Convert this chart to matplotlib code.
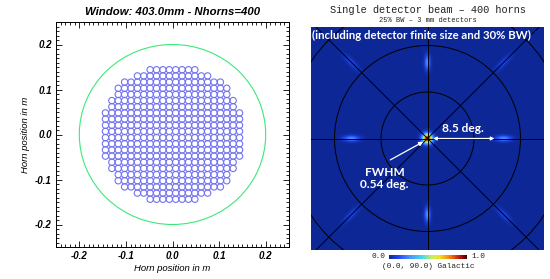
import numpy as np
import matplotlib as mpl
mpl.use('Agg')
import matplotlib.pyplot as plt
from matplotlib.colors import LinearSegmentedColormap
from matplotlib.patches import Circle

# ---- data: horn array (left panel) ----
# horns per row, from the top row down to the middle row (array is symmetric)
row_counts_top = [8, 12, 16, 18, 18, 20, 20, 22, 22, 22, 22]
horn_pitch = 0.0137       # m
window_radius = 0.2       # m
x_ticks = [-0.2, -0.1, 0.0, 0.1, 0.2]
y_ticks = [-0.2, -0.1, 0.0, 0.1, 0.2]

# ---- data: synthesized beam (right panel) ----
peak_sep = 8.2            # deg, distance of the secondary peaks
core_width = 0.9          # deg, apparent width of the central peak on the map
lobe_x = [0, 1, -1, 0, 0, 1, 1, -1, -1]
lobe_y = [0, 0, 0, 1, -1, 1, -1, 1, -1]
lobe_amp = [1.0, 0.26, 0.26, 0.26, 0.26, 0.11, 0.11, 0.11, 0.11]
grat_radii = [5, 10, 15]  # deg
cbar_labels = ['0.0', '1.0']

fig = plt.figure(figsize=(5.5, 2.79), dpi=100)
W, H = 550.0, 279.0

# ------------------------------------------------------------ left panel
ax1 = fig.add_axes([56 / W, 1 - 247 / H, 233 / W, 225 / H])
counts = row_counts_top + row_counts_top[::-1]
nrows = len(counts)
hx, hy = [], []
for i, n in enumerate(counts):
    y = ((nrows - 1) / 2.0 - i) * horn_pitch
    for j in range(n):
        hx.append((j - (n - 1) / 2.0) * horn_pitch)
        hy.append(y)
ax1.scatter(hx, hy, s=21, facecolors='none', edgecolors='#7272f0',
            linewidths=0.8)
ax1.add_patch(Circle((0, 0), window_radius, fill=False, color='#3de87a',
                     lw=0.8))
ax1.set_xlim(-0.25, 0.25)
ax1.set_ylim(-0.25, 0.25)
ax1.set_xticks(x_ticks)
ax1.set_yticks(y_ticks)
ax1.set_xticklabels(['%.1f' % v for v in x_ticks])
ax1.set_yticklabels(['%.1f' % v for v in y_ticks])
ax1.xaxis.set_minor_locator(mpl.ticker.MultipleLocator(0.01))
ax1.yaxis.set_minor_locator(mpl.ticker.MultipleLocator(0.01))
ax1.tick_params(which='both', direction='in', top=True, right=True,
                width=0.6)
ax1.tick_params(which='major', length=4, pad=3)
ax1.tick_params(which='minor', length=2)
for lab in ax1.get_xticklabels() + ax1.get_yticklabels():
    lab.set_family('Liberation Sans')
    lab.set_weight('bold')
    lab.set_style('italic')
    lab.set_fontsize(7)
for s in ax1.spines.values():
    s.set_linewidth(0.7)
lab_font = dict(family='Liberation Sans', style='italic', fontsize=6.8)
ax1.set_xlabel('Horn position in m', labelpad=2, **lab_font)
ax1.set_ylabel('Horn position in m', labelpad=4, **lab_font)
ax1.set_title('Window: 403.0mm - Nhorns=400', family='Liberation Sans',
              weight='bold', style='italic', fontsize=8.2, pad=5)

# ------------------------------------------------------------ right panel
ax2 = fig.add_axes([311 / W, 1 - 250 / H, 233 / W, 223 / H])
scale = 9.3  # px per degree
xh, yh = 116.5 / scale, 111.5 / scale
gx = np.linspace(-xh, xh, 466)
gy = np.linspace(-yh, yh, 446)
X, Y = np.meshgrid(gx, gy)
sig = core_width / 2.3548
beam = np.zeros_like(X)
for lx, ly, a in zip(lobe_x, lobe_y, lobe_amp):
    cx, cy = lx * peak_sep, ly * peak_sep
    if lx == 0 and ly == 0:
        beam += a * np.exp(-(X ** 2 + Y ** 2) / (2 * sig ** 2))
        continue
    r = np.hypot(cx, cy)
    ux, uy = cx / r, cy / r
    dr = (X - cx) * ux + (Y - cy) * uy
    dt = -(X - cx) * uy + (Y - cy) * ux
    sr = 0.6 * r / peak_sep
    beam += a * np.exp(-dr ** 2 / (2 * sr ** 2) - dt ** 2 / (2 * 0.22 ** 2))
beam = np.clip(beam, 0, 1)

cmap = LinearSegmentedColormap.from_list('beam', [
    (0.0, '#0d2896'), (0.12, '#2048f2'), (0.26, '#4a90ff'),
    (0.42, '#40d8f0'), (0.55, '#c8f060'), (0.65, '#f0e020'),
    (0.8, '#f07010'), (0.92, '#b01010'), (1.0, '#400000')])
im = ax2.imshow(beam, cmap=cmap, vmin=0, vmax=1, origin='lower',
                extent=[-xh, xh, -yh, yh], interpolation='bilinear')
for rr in grat_radii:
    ax2.add_patch(Circle((0, 0), rr, fill=False, color='black', lw=0.7))
ax2.axhline(0, color='black', lw=0.7)
ax2.axvline(0, color='black', lw=0.7)
ax2.axline((0, 0), slope=1, color='black', lw=0.7)
ax2.axline((0, 0), slope=-1, color='black', lw=0.7)
ax2.set_xlim(-xh, xh)
ax2.set_ylim(-yh, yh)
ax2.set_xticks([])
ax2.set_yticks([])
for s in ax2.spines.values():
    s.set_visible(False)

txt = dict(family='Lato', weight='bold', color='white')
ax2.text(0.006, 0.962, '(including detector finite size and 30% BW)',
         transform=ax2.transAxes, ha='left', va='center', fontsize=8.2, **txt)
ax2.text(3.8, 1.1, '8.5 deg.', ha='center', va='center', fontsize=8.6, **txt)
ax2.annotate('', xy=(7.2, 0), xytext=(0.6, 0),
             arrowprops=dict(arrowstyle='<|-|>', color='white', lw=0.9,
                             mutation_scale=5, shrinkA=0, shrinkB=0))
ax2.text(-4.6, -4.3, 'FWHM\n0.54 deg.', ha='center', va='center',
         fontsize=8.6, linespacing=1.05, **txt)
ax2.annotate('', xy=(-0.45, -0.35), xytext=(-4.0, -2.3),
             arrowprops=dict(arrowstyle='-|>', color='white', lw=0.9,
                             mutation_scale=6, shrinkA=0, shrinkB=0))

# colour bar
cax = fig.add_axes([389 / W, 1 - 259 / H, 78 / W, 4.5 / H])
cb = fig.colorbar(im, cax=cax, orientation='horizontal')
cb.set_ticks([])
cb.outline.set_visible(False)
mono = dict(family='Liberation Mono', color='#222222')
fig.text(385 / W, 1 - 257 / H, cbar_labels[0], ha='right', va='center',
         fontsize=5.6, **mono)
fig.text(471 / W, 1 - 257 / H, cbar_labels[1], ha='left', va='center',
         fontsize=5.6, **mono)
fig.text(428 / W, 1 - 267 / H, '(0.0, 90.0) Galactic', ha='center',
         va='center', fontsize=5.6, **mono)

fig.text(428 / W, 1 - 10 / H, 'Single detector beam \u2013 400 horns',
         ha='center', va='center', fontsize=7.4, **mono)
fig.text(428 / W, 1 - 20 / H, '25% BW \u2013 3 mm detectors',
         ha='center', va='center', fontsize=5.0, **mono)

fig.savefig('out.png', dpi=100)
